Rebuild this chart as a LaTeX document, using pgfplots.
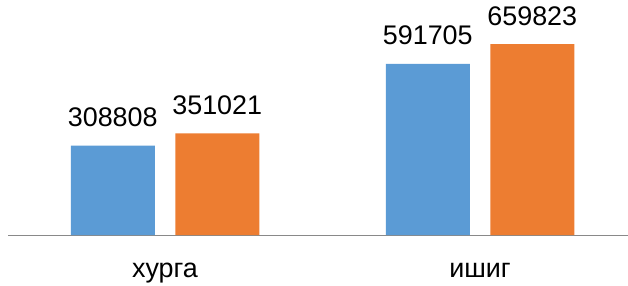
\documentclass[border=0pt]{standalone}
\usepackage{pgfplots}
\pgfplotsset{compat=1.18}
\usepackage{fontspec}
\setmainfont{Liberation Sans}
\definecolor{cblue}{HTML}{5B9BD5}
\definecolor{corange}{HTML}{ED7D31}
\definecolor{caxis}{HTML}{898989}
\begin{document}
\begin{tikzpicture}
\begin{axis}[
  scale only axis,
  width=620bp, height=235bp,
  xmin=-0.4984, xmax=1.4698,
  ymin=0, ymax=812000,
  axis x line*=bottom,
  axis y line=none,
  x axis line style={-, draw=caxis, line width=1bp},
  xtick={0,1},
  xticklabels={хурга, ишиг},
  major tick length=0pt,
  xticklabel style={anchor=base, yshift=-42bp, font=\fontsize{27}{32}\selectfont, text=black},
  ybar,
  bar width=84bp,
  point meta=explicit symbolic,
  nodes near coords,
  nodes near coords style={anchor=base, yshift=19bp, font=\fontsize{27}{32}\selectfont, text=black, inner sep=0pt},
  clip=false,
]
\addplot[fill=cblue, draw=none, bar shift=-52.25bp] coordinates {(0,308808) [308808] (1,591705) [591705]};
\addplot[fill=corange, draw=none, bar shift=52.25bp] coordinates {(0,351021) [351021] (1,659823) [659823]};
\coordinate (bl) at (rel axis cs:0,0);
\coordinate (tr) at (rel axis cs:1,1);
\end{axis}
\pgfresetboundingbox
\path ([xshift=-8bp,yshift=-51bp]bl) rectangle (tr);
\end{tikzpicture}
\end{document}
